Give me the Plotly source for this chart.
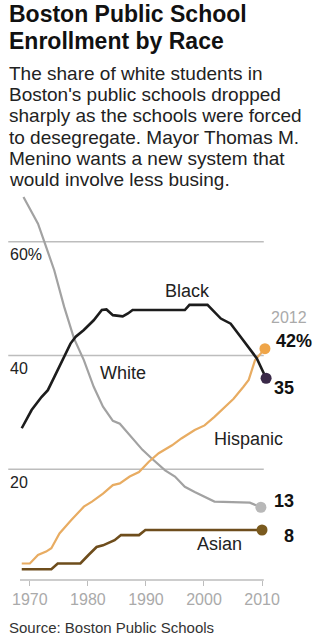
import plotly.graph_objects as go

# ---------------- data ----------------
white_years = [1968.9, 1971.4, 1972.5, 1974.2, 1975.9, 1977.6, 1979.3, 1981.0, 1982.6,
               1984.3, 1985.5, 1986.9, 1989.4, 1991.1, 1993.3, 1995.0, 1996.7, 1998.4,
               2000.1, 2001.8, 2007.9, 2009.8]
white_vals = [67.9, 63.2, 60.0, 55.0, 48.6, 43.0, 39.2, 34.5, 31.0,
              28.5, 28.0, 26.3, 23.4, 21.8, 19.8, 18.7, 16.9, 16.0,
              15.1, 14.3, 14.1, 13.3]

black_years = [1968.6, 1970.3, 1972.0, 1973.1, 1974.2, 1975.6, 1977.0, 1977.9, 1979.3,
               1981.0, 1982.4, 1983.2, 1984.3, 1986.0, 1986.9, 1987.7, 1996.7, 1997.5,
               2000.1, 2000.6, 2002.9, 2004.0, 2004.6, 2006.3, 2007.9, 2009.1, 2010.7]
black_vals = [27.2, 30.4, 32.7, 33.9, 36.2, 39.2, 42.1, 43.3, 44.5,
              46.2, 48.0, 48.1, 47.1, 46.9, 47.4, 48.0, 48.0, 48.9,
              49.0, 48.9, 46.5, 45.9, 45.6, 43.3, 41.2, 39.5, 36.0]

hisp_years = [1968.6, 1970.0, 1971.4, 1972.8, 1973.7, 1975.1, 1977.1, 1979.3, 1980.7,
              1982.6, 1984.3, 1985.5, 1987.2, 1988.8, 1990.5, 1992.2, 1994.5, 1996.1,
              1998.4, 2000.1, 2001.8, 2003.4, 2005.1, 2006.8, 2007.7, 2008.8, 2009.9, 2010.5]
hisp_vals = [3.4, 3.4, 4.9, 5.5, 6.1, 8.7, 11.0, 13.4, 14.3,
             15.7, 17.2, 17.5, 18.7, 19.5, 21.3, 22.8, 24.2, 25.4,
             26.9, 27.7, 29.2, 30.7, 32.4, 34.5, 35.7, 39.2, 40.6, 41.2]

asian_years = [1968.6, 1973.7, 1974.8, 1978.7, 1980.1, 1981.5, 1982.6, 1983.8, 1984.6,
               1985.7, 1988.8, 1989.9, 2010.0]
asian_vals = [2.4, 2.4, 3.4, 3.4, 4.9, 6.3, 6.6, 7.2, 7.5,
              8.4, 8.4, 9.3, 9.3]

end_labels = {"Hispanic": "42%", "Black": "35", "White": "13", "Asian": "8"}
gridlines = [20, 40, 60]
grid_labels = ["20", "40", "60%"]
x_ticks = [1970, 1980, 1990, 2000, 2010]

# ---------------- layout geometry ----------------
W, H = 329, 636
X0, X1 = 1968.3, 2011.2
PXY = 249 / 42.0            # pixels per year
L = 15
R = L + (X1 - X0) * PXY
T, B = 185, 580


def px(x):
    return (x - L) / (R - L)


def py(y):
    return (B - y) / (B - T)


FONT = "Liberation Sans, Arial, sans-serif"

fig = go.Figure()

series = [
    ("White", white_years, white_vals, "#a2a2a2", 2.2, "#b8b8b8"),
    ("Asian", asian_years, asian_vals, "#6e4d1c", 2.6, "#7a5a1e"),
    ("Hispanic", hisp_years, hisp_vals, "#e8ac62", 2.2, "#efa548"),
    ("Black", black_years, black_vals, "#1c1c1c", 2.6, "#3a2948"),
]
for name, xs, ys, col, w, dot in series:
    fig.add_trace(go.Scatter(x=xs, y=ys, mode="lines", line=dict(color=col, width=w),
                             hoverinfo="skip", showlegend=False, cliponaxis=False))
for name, xs, ys, col, w, dot in series:
    fig.add_trace(go.Scatter(x=[xs[-1]], y=[ys[-1]], mode="markers",
                             marker=dict(color=dot, size=11, line=dict(width=0)),
                             hoverinfo="skip", showlegend=False, cliponaxis=False))

# gridlines and baseline
shapes = []
for g in gridlines:
    shapes.append(dict(type="line", xref="paper", yref="y", x0=px(3), x1=px(264), y0=g, y1=g,
                       line=dict(color="#bdbdbd", width=1.5), layer="below"))
shapes.append(dict(type="line", xref="x", yref="paper", x0=X0, x1=2010.3, y0=0, y1=0,
                   line=dict(color="#bdbdbd", width=1.5), layer="below"))
fig.update_layout(shapes=shapes)

ann = []


def add(text, x, y, size, color="#222", xanchor="left", bold=False):
    t = f"<b>{text}</b>" if bold else text
    ann.append(dict(text=t, x=px(x), y=py(y), xref="paper", yref="paper",
                    xanchor=xanchor, yanchor="middle", showarrow=False,
                    font=dict(family=FONT, size=size, color=color)))


# title
add("Boston Public School", 2, 14.0, 23, "#111", bold=True)
add("Enrollment by Race", 2, 40.5, 23, "#111", bold=True)
body = ["The share of white students in",
        "Boston's public schools dropped",
        "sharply as the schools were forced",
        "to desegregate. Mayor Thomas M.",
        "Menino wants a new system that",
        "would involve less busing."]
for i, line in enumerate(body):
    add(line, 2, 73.6 + i * 21.2, 19, "#222")

# grid labels
for g, lab in zip(gridlines, grid_labels):
    ypix = B - (g - 0.5) / 69.5 * (B - T)
    add(lab, 3, ypix + 13, 16, "#222")

# series labels
add("Black", 186.5, 290.5, 18, "#222", xanchor="center")
add("White", 120, 372.5, 18, "#222", xanchor="center")
add("Hispanic", 248.5, 439, 18, "#222", xanchor="center")
add("Asian", 218.5, 543.5, 18, "#222", xanchor="center")

# end labels
add("2012", 310, 317, 16, "#aaaaaa", xanchor="right")
add(end_labels["Hispanic"], 274, 341, 18, "#111", bold=True)
add(end_labels["Black"], 297, 387.5, 18, "#111", xanchor="right", bold=True)
add(end_labels["White"], 297, 501, 18, "#111", xanchor="right", bold=True)
add(end_labels["Asian"], 297, 536, 18, "#111", xanchor="right", bold=True)

# source
add("Source: Boston Public Schools", 2, 627, 15, "#333")

fig.update_layout(annotations=ann)

fig.update_layout(
    width=W, height=H,
    margin=dict(l=L, r=W - R, t=T, b=H - B, pad=0),
    paper_bgcolor="white", plot_bgcolor="white",
    xaxis=dict(range=[X0, X1], tickvals=x_ticks, ticktext=[str(v) for v in x_ticks],
               showgrid=False, zeroline=False, showline=False,
               ticks="outside", ticklen=5, tickcolor="#bdbdbd", tickwidth=1,
               tickfont=dict(family=FONT, size=16, color="#aaaaaa"), fixedrange=True),
    yaxis=dict(range=[0.5, 70], showgrid=False, zeroline=False, showline=False,
               showticklabels=False, ticks="", fixedrange=True),
)

fig.write_html("out.html", config={"displayModeBar": False})
